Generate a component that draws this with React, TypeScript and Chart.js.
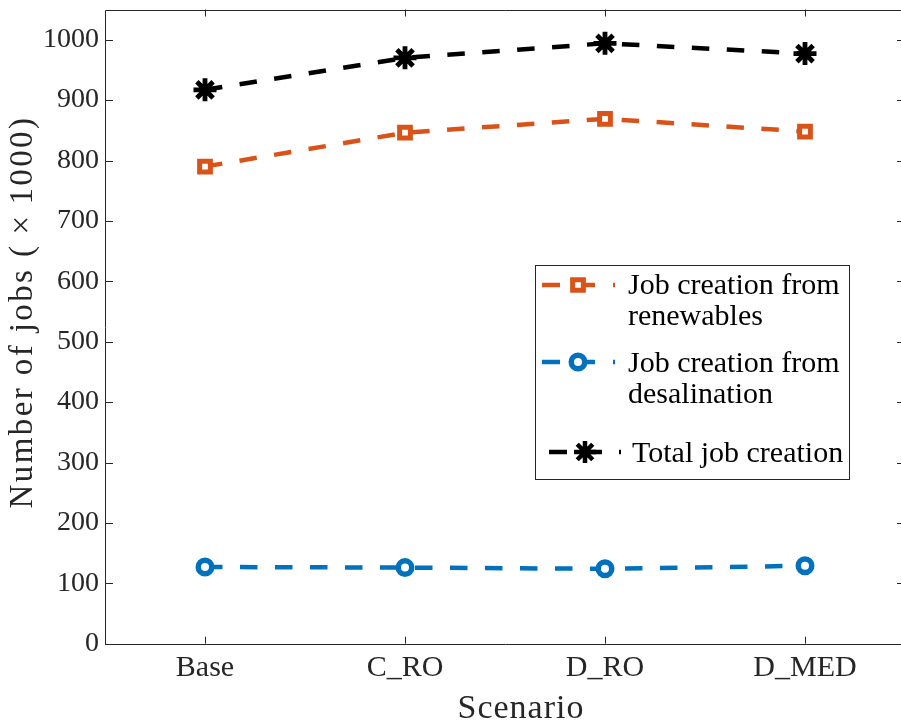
import React, { useEffect, useRef } from "react";
import { Chart, registerables } from "chart.js";
import { drawPoint } from "chart.js/helpers";

Chart.register(...registerables);

const categories = ["Base", "C_RO", "D_RO", "D_MED"];
const renewables = [790, 846, 869, 848];
const desalination = [127, 126, 124, 129];
const totalJobs = [917, 970, 994, 977];
const yTicks = [0, 100, 200, 300, 400, 500, 600, 700, 800, 900, 1000];
const seriesNames = ["Job creation from|renewables", "Job creation from|desalination", "Total job creation"];
const xTitle = "Scenario";
const yTitle = "Number of jobs (\u2009\u00d7\u20091000)";

const ORANGE = "#D95319";
const BLUE = "#0072BD";
const BLACK = "#000000";
const AXIS = "#262626";
const FONT = "'Liberation Serif', 'Times New Roman', serif";

const CANVAS_W = 910;
const CANVAS_H = 724;

const framePlugin = {
  id: "frame",
  afterDraw(chart: any) {
    const { ctx, chartArea: a, scales } = chart;
    const x = scales.x;
    const y = scales.y;
    ctx.save();
    ctx.strokeStyle = AXIS;
    ctx.lineWidth = 1;
    ctx.setLineDash([]);
    ctx.beginPath();
    ctx.rect(Math.round(a.left) + 0.5, Math.round(a.top) + 0.5, Math.round(a.right - a.left), Math.round(a.bottom - a.top));
    ctx.stroke();
    ctx.beginPath();
    categories.forEach((_, i) => {
      const px = Math.round(x.getPixelForValue(i)) + 0.5;
      ctx.moveTo(px, a.bottom);
      ctx.lineTo(px, a.bottom - 7);
      ctx.moveTo(px, a.top);
      ctx.lineTo(px, a.top + 7);
    });
    yTicks.forEach((v) => {
      const py = Math.round(y.getPixelForValue(v)) + 0.5;
      ctx.moveTo(a.left, py);
      ctx.lineTo(a.left + 8, py);
      ctx.moveTo(a.right, py);
      ctx.lineTo(a.right - 8, py);
    });
    ctx.stroke();

    // axis titles
    ctx.fillStyle = AXIS;
    ctx.textAlign = "center";
    ctx.textBaseline = "alphabetic";
    (ctx as any).letterSpacing = "1px";
    ctx.font = `34px ${FONT}`;
    ctx.fillText(xTitle, 521, 718);
    ctx.save();
    (ctx as any).letterSpacing = "2.4px";
    ctx.font = `33px ${FONT}`;
    ctx.translate(32, 312);
    ctx.rotate(-Math.PI / 2);
    ctx.fillText(yTitle, 0, 0);
    ctx.restore();
    (ctx as any).letterSpacing = "0px";

    // legend
    const bx = 535.5, by = 265.5, bw = 314, bh = 214;
    ctx.fillStyle = "#ffffff";
    ctx.fillRect(bx, by, bw, bh);
    ctx.strokeStyle = AXIS;
    ctx.lineWidth = 1;
    ctx.strokeRect(bx, by, bw, bh);

    const rows = [
      { color: ORANGE, style: "rect", radius: 7.6, bw: 5, lineY: 285, x0: 542, mx: 578, dot: 613, tx: 628, base: [294, 325] },
      { color: BLUE, style: "circle", radius: 6.75, bw: 5.5, lineY: 362, x0: 542, mx: 578, dot: 613, tx: 628, base: [372, 403] },
      { color: BLACK, style: "star", radius: 11, bw: 4.5, lineY: 452, x0: 549, mx: 585, dot: 619, tx: 632, base: [462] },
    ];
    rows.forEach((r, i) => {
      ctx.save();
      ctx.strokeStyle = r.color;
      ctx.lineWidth = 4.5;
      ctx.lineCap = "butt";
      ctx.beginPath();
      ctx.moveTo(r.x0, r.lineY);
      ctx.lineTo(r.x0 + 18, r.lineY);
      ctx.moveTo(r.mx, r.lineY);
      ctx.lineTo(r.mx + 17, r.lineY);
      ctx.moveTo(r.dot, r.lineY);
      ctx.lineTo(r.dot + 2, r.lineY);
      ctx.stroke();
      ctx.fillStyle = "#ffffff";
      ctx.strokeStyle = r.color;
      ctx.lineWidth = r.bw;
      drawPoint(ctx, { pointStyle: r.style, radius: r.radius, rotation: 0, borderWidth: r.bw }, r.mx, r.lineY);
      ctx.restore();
      ctx.fillStyle = "#000000";
      ctx.font = `30px ${FONT}`;
      ctx.textAlign = "left";
      ctx.textBaseline = "alphabetic";
      const lines = seriesNames[i].split("|");
      lines.forEach((t, j) => ctx.fillText(t, r.tx, r.base[j]));
    });
    ctx.restore();
  },
};

export default function App() {
  const ref = useRef<HTMLCanvasElement | null>(null);
  useEffect(() => {
    if (!ref.current) return;
    const common = {
      fill: false,
      borderWidth: 4.5,
      borderDash: [17.5, 17.5],
      tension: 0,
      pointBackgroundColor: "#ffffff",
      pointHoverRadius: 0,
    };
    const chart = new Chart(ref.current, {
      type: "line",
      data: {
        labels: categories,
        datasets: [
          {
            ...common,
            label: "Job creation from renewables",
            data: renewables,
            borderColor: ORANGE,
            pointBorderColor: ORANGE,
            pointStyle: "rect",
            pointRadius: 7.6,
            pointBorderWidth: 5,
          },
          {
            ...common,
            label: "Job creation from desalination",
            data: desalination,
            borderColor: BLUE,
            pointBorderColor: BLUE,
            pointStyle: "circle",
            pointRadius: 6.75,
            pointBorderWidth: 5.5,
          },
          {
            ...common,
            label: "Total job creation",
            data: totalJobs,
            borderColor: BLACK,
            pointBorderColor: BLACK,
            pointStyle: "star",
            pointRadius: 11.5,
            pointBorderWidth: 4.8,
          },
        ],
      },
      options: {
        responsive: false,
        animation: false,
        devicePixelRatio: 1,
        layout: { autoPadding: false, padding: { top: 9.5, right: CANVAS_W - 905, left: 0, bottom: 0 } },
        plugins: { legend: { display: false }, tooltip: { enabled: false } },
        events: [],
        scales: {
          x: {
            type: "category",
            offset: true,
            grid: { display: false, drawTicks: false },
            border: { display: false },
            ticks: { color: AXIS, font: { family: FONT, size: 30 }, padding: 6, maxRotation: 0, autoSkip: false },
            title: { display: false, text: xTitle },
            afterFit: (s: any) => {
              s.height = CANVAS_H - 643.7;
              s.paddingLeft = 0; s.paddingRight = 0; s.paddingTop = 0; s.paddingBottom = 0;
            },
          },
          y: {
            min: 0,
            max: 1050,
            grid: { display: false, drawTicks: false },
            border: { display: false },
            ticks: {
              color: AXIS,
              font: { family: FONT, size: 28 },
              padding: 6,
              stepSize: 100,
              includeBounds: false,
              callback: (v: any) => String(v),
            },
            title: { display: false, text: yTitle },
            afterFit: (s: any) => {
              s.width = 105;
              s.paddingLeft = 0; s.paddingRight = 0; s.paddingTop = 0; s.paddingBottom = 0;
            },
          },
        },
      },
      plugins: [framePlugin],
    });
    return () => chart.destroy();
  }, []);
  return (
    <div style={{ position: "fixed", left: 0, top: 0, width: 901, height: 724, overflow: "hidden", background: "#ffffff" }}>
      <canvas ref={ref} width={CANVAS_W} height={CANVAS_H} style={{ width: CANVAS_W, height: CANVAS_H, display: "block" }} />
    </div>
  );
}
